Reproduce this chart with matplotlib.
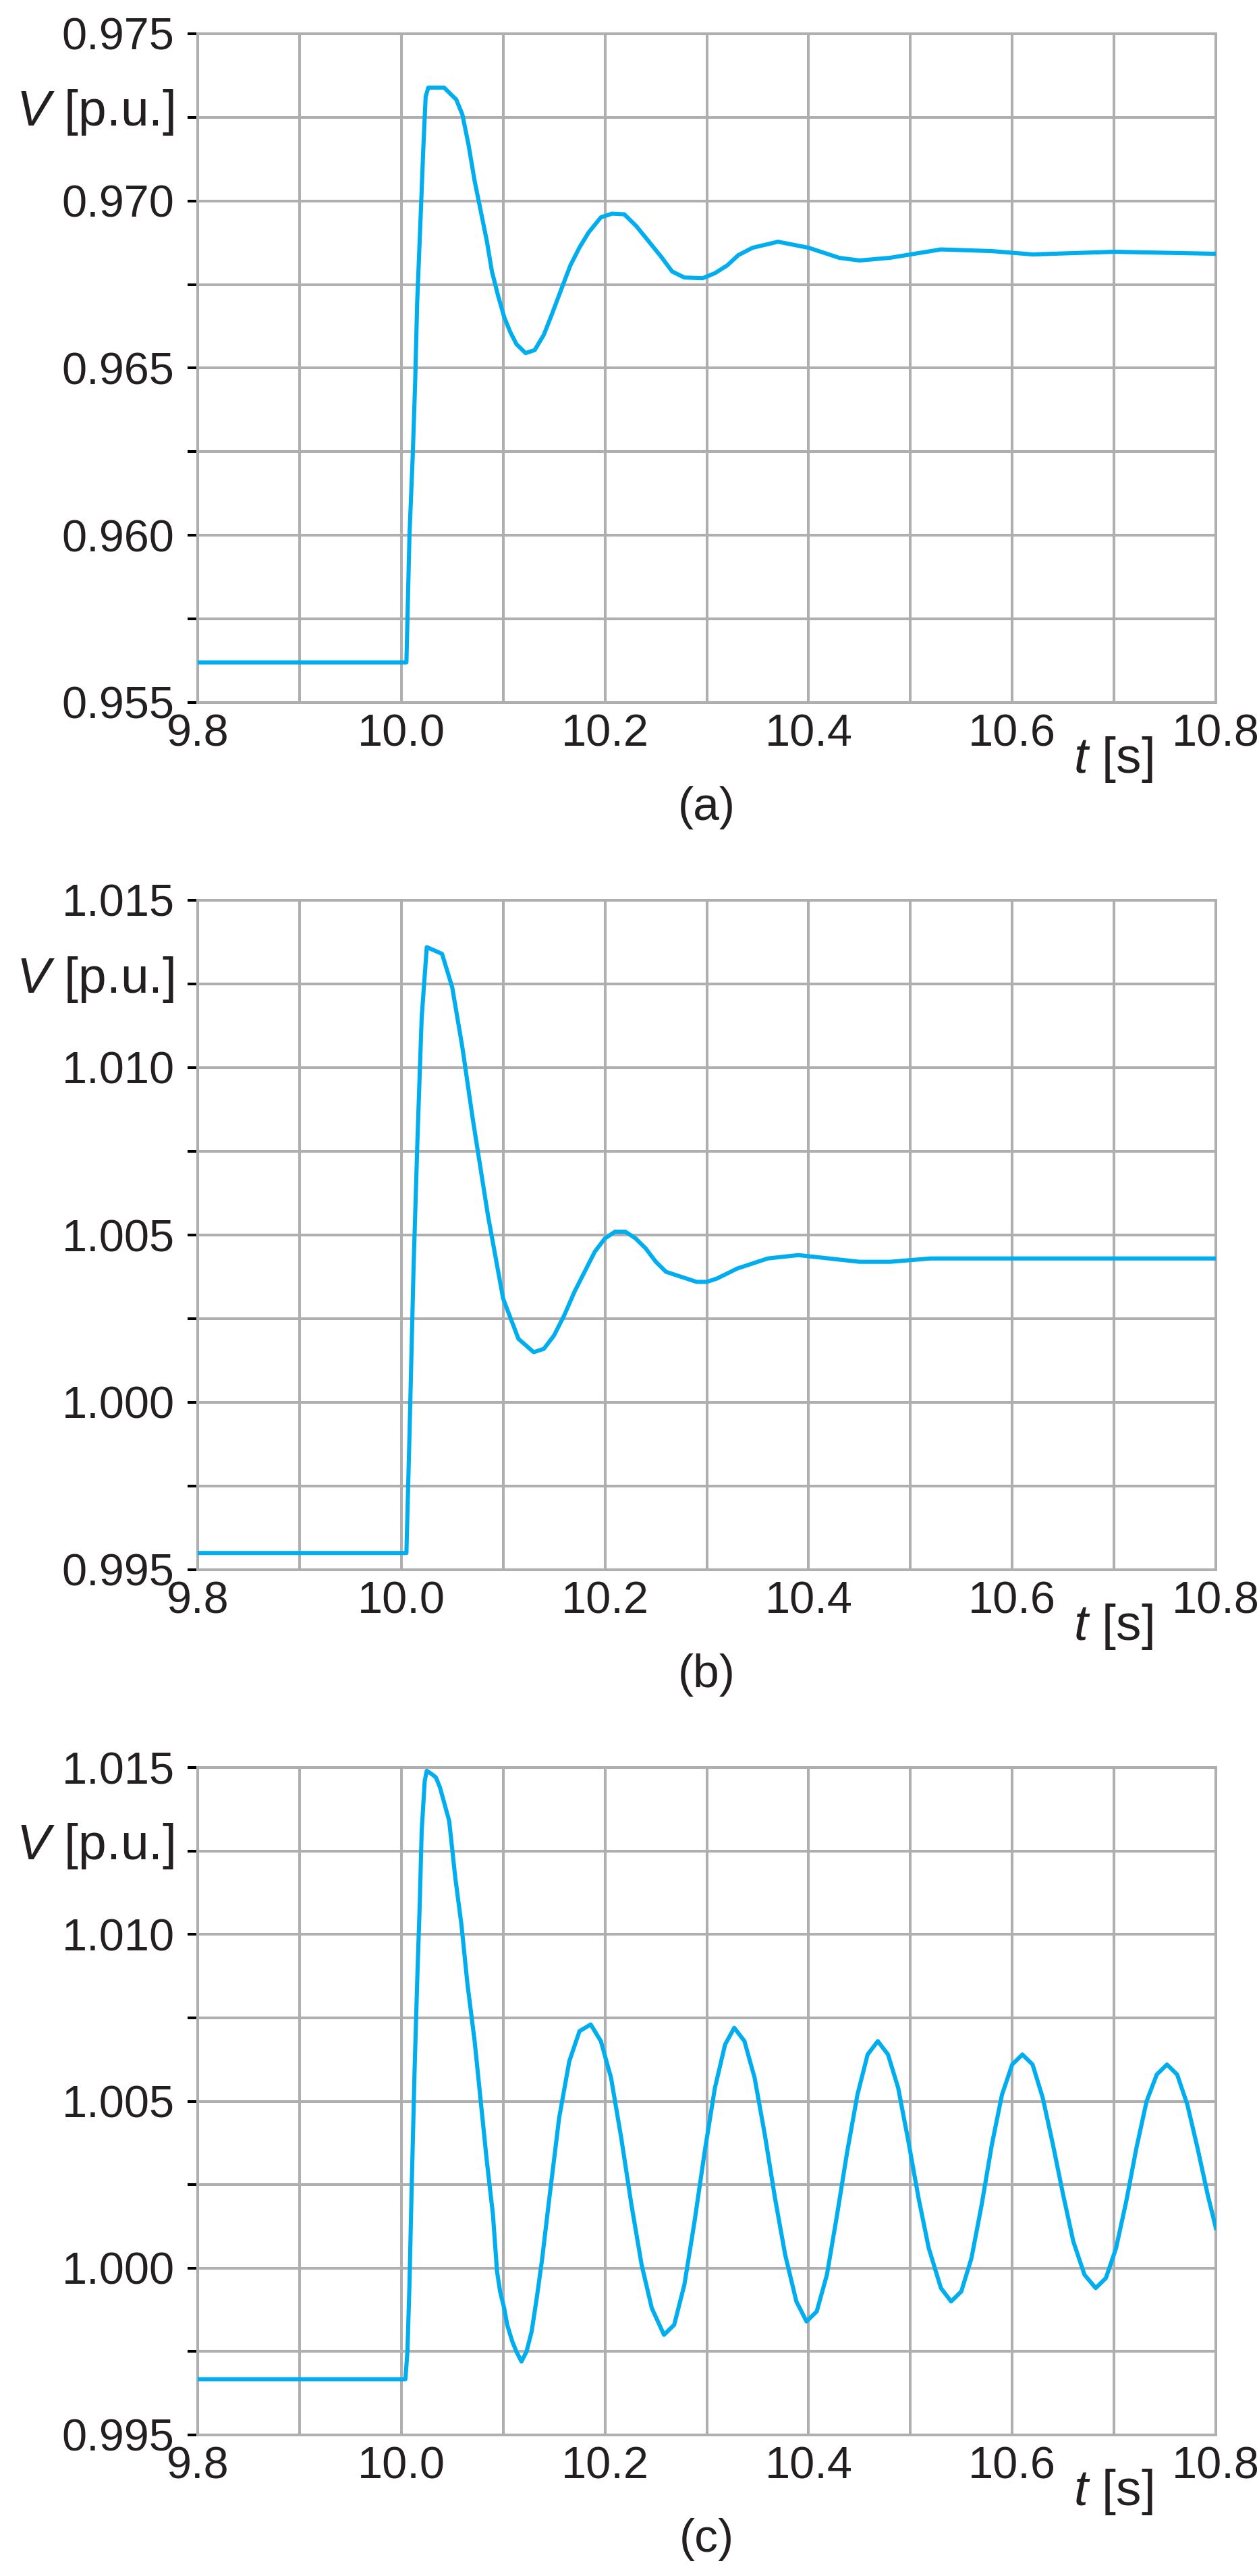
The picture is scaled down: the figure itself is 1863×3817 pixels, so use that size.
import matplotlib
matplotlib.use("Agg")
import matplotlib.pyplot as plt
from matplotlib.ticker import MultipleLocator, FormatStrFormatter

plt.rcParams['font.family'] = ['Liberation Sans', 'DejaVu Sans']
plt.rcParams['mathtext.fontset'] = 'custom'
plt.rcParams['mathtext.rm'] = 'Liberation Sans'
plt.rcParams['mathtext.it'] = 'Liberation Sans:italic'

# ---- data ----
t_a = [9.8, 10.005, 10.008, 10.0112, 10.0136, 10.0156, 10.0186, 10.0215, 10.0239, 10.0265,
       10.042, 10.054, 10.060, 10.066, 10.072, 10.078, 10.084, 10.089, 10.095, 10.101,
       10.107, 10.113, 10.122, 10.131, 10.140, 10.148, 10.157, 10.166, 10.175, 10.184,
       10.196, 10.207, 10.219, 10.231, 10.243, 10.255, 10.266, 10.278, 10.296, 10.308,
       10.320, 10.331, 10.345, 10.37, 10.40, 10.43, 10.45, 10.48, 10.53, 10.58, 10.62,
       10.7, 10.8]
v_a = [0.9562, 0.9562, 0.9600, 0.96238, 0.96459, 0.96699, 0.96924, 0.9715, 0.97312, 0.97339,
       0.97339, 0.97303, 0.97258, 0.97168, 0.9706, 0.9697, 0.9688, 0.96789, 0.96717, 0.96653,
       0.96608, 0.96572, 0.96545, 0.96554, 0.966, 0.96662, 0.96735, 0.96807, 0.96861, 0.96906,
       0.96951, 0.96962, 0.9696, 0.96924, 0.96879, 0.96834, 0.96789, 0.96771, 0.96769, 0.96784,
       0.96807, 0.96838, 0.9686, 0.96878, 0.9686, 0.9683, 0.96822, 0.9683, 0.96855, 0.9685, 0.9684,
       0.96848, 0.96842]

t_b = [9.8, 10.005, 10.008, 10.012, 10.016, 10.02, 10.025, 10.04, 10.05, 10.06, 10.07, 10.085,
       10.1, 10.115, 10.13, 10.14, 10.15, 10.16, 10.17, 10.18, 10.19, 10.2, 10.21, 10.22,
       10.23, 10.24, 10.25, 10.26, 10.27, 10.28, 10.29, 10.30, 10.31, 10.33, 10.36, 10.39,
       10.42, 10.45, 10.48, 10.52, 10.6, 10.7, 10.8]
v_b = [0.9955, 0.9955, 0.999, 1.004, 1.008, 1.0115, 1.0136, 1.0134, 1.0124, 1.0106, 1.0085, 1.0056,
       1.0031, 1.0019, 1.0015, 1.0016, 1.0020, 1.0026, 1.0033, 1.0039, 1.0045, 1.0049, 1.0051, 1.0051,
       1.0049, 1.0046, 1.0042, 1.0039, 1.0038, 1.0037, 1.0036, 1.0036, 1.0037, 1.0040, 1.0043, 1.0044,
       1.0043, 1.0042, 1.0042, 1.0043, 1.0043, 1.0043, 1.0043]

t_c = [9.8, 10.004, 10.006, 10.008, 10.010, 10.013, 10.016, 10.018, 10.020, 10.023, 10.025,
       10.030, 10.034, 10.038, 10.047, 10.053, 10.059, 10.065, 10.072, 10.078, 10.084, 10.090,
       10.094, 10.097, 10.101, 10.104, 10.109, 10.113, 10.118, 10.123, 10.128, 10.133, 10.138,
       10.145, 10.155, 10.165, 10.175, 10.186, 10.196, 10.206, 10.216, 10.226, 10.236, 10.246,
       10.258, 10.268, 10.278, 10.288, 10.298, 10.308, 10.318, 10.327, 10.337, 10.347, 10.357,
       10.367, 10.377, 10.388, 10.398, 10.408, 10.418, 10.428, 10.438, 10.448, 10.458, 10.468,
       10.478, 10.488, 10.498, 10.508, 10.518, 10.530, 10.540, 10.550, 10.560, 10.570, 10.580,
       10.590, 10.600, 10.610, 10.620, 10.630, 10.640, 10.650, 10.660, 10.671, 10.682, 10.692,
       10.702, 10.712, 10.722, 10.732, 10.742, 10.752, 10.762, 10.772, 10.782, 10.792, 10.8]
v_c = [0.99667, 0.99667, 0.9975, 0.9995, 1.0022, 1.0059, 1.0090, 1.0108, 1.0131, 1.0146, 1.0149,
       1.0148, 1.0147, 1.0144, 1.0134, 1.0117, 1.0103, 1.0085, 1.0068, 1.0050, 1.0032, 1.0016,
       0.9999, 0.9993, 0.9988, 0.9983, 0.9978, 0.9975, 0.9972, 0.9975, 0.9981, 0.9991, 1.0002,
       1.0020, 1.0045, 1.0062, 1.0071, 1.0073, 1.0068, 1.0057, 1.0039, 1.0019, 1.0001, 0.9988,
       0.9980, 0.9983, 0.9995, 1.0014, 1.0035, 1.0054, 1.0067, 1.0072, 1.0068, 1.0057, 1.0040,
       1.0021, 1.0004, 0.9990, 0.9984, 0.9987, 0.9998, 1.0016, 1.0035, 1.0052, 1.0064, 1.0068,
       1.0064, 1.0054, 1.0038, 1.0021, 1.0006, 0.9994, 0.9990, 0.9993, 1.0003, 1.0019, 1.0037,
       1.0052, 1.0061, 1.0064, 1.0061, 1.0051, 1.0037, 1.0022, 1.0008, 0.9998, 0.9994, 0.9997,
       1.0006, 1.0020, 1.0036, 1.0050, 1.0058, 1.0061, 1.0058, 1.0049, 1.0036, 1.0022, 1.0012]

y_limits = [(0.955, 0.975), (0.995, 1.015), (0.995, 1.015)]
captions = ['(a)', '(b)', '(c)']
series = [(t_a, v_a), (t_b, v_b), (t_c, v_c)]

W, H = 1863, 3817
fig = plt.figure(figsize=(W / 100, H / 100), dpi=100)

grid_col = '#AFAFB2'
line_col = '#00AEEF'
text_col = '#231F20'

# axes boxes in pixels: left, top, right, bottom
boxes = [(293, 50, 1802, 1041), (293, 1334, 1802, 2326), (293, 2619, 1802, 3608)]

for i, (box, (t, v)) in enumerate(zip(boxes, series)):
    l, tp, r, b = box
    ax = fig.add_axes([l / W, 1 - b / H, (r - l) / W, (b - tp) / H])
    ax.plot(t, v, color=line_col, lw=4.4, zorder=3)
    ax.set_xlim(9.8, 10.8)
    ax.set_ylim(*y_limits[i])

    ax.xaxis.set_major_locator(MultipleLocator(0.2))
    ax.xaxis.set_minor_locator(MultipleLocator(0.1))
    ax.xaxis.set_major_formatter(FormatStrFormatter('%.1f'))
    ax.yaxis.set_major_locator(MultipleLocator(0.005))
    ax.yaxis.set_minor_locator(MultipleLocator(0.0025))
    ax.yaxis.set_major_formatter(FormatStrFormatter('%.3f'))

    ax.grid(which='both', color=grid_col, lw=2.9, zorder=1)
    ax.set_axisbelow(True)
    for s in ax.spines.values():
        s.set_color(grid_col)
        s.set_linewidth(2.9)

    ax.tick_params(axis='y', which='both', length=10.8, width=2.9, color='black',
                   direction='out', pad=14, labelsize=48, labelcolor=text_col)
    ax.tick_params(axis='x', which='both', length=0, pad=12, labelsize=48,
                   labelcolor=text_col)

    ax.text(-0.0232, 0.882, r'$V$ [p.u.]', transform=ax.transAxes, ha='right',
            va='center', fontsize=54, color=text_col)
    ax.text(0.899, -0.085, r'$t$ [s]', transform=ax.transAxes, ha='center',
            va='center', fontsize=54, color=text_col)
    ax.text(0.5, -0.157, captions[i], transform=ax.transAxes, ha='center',
            va='center', fontsize=50, color=text_col)

fig.savefig('out.png', dpi=100)
